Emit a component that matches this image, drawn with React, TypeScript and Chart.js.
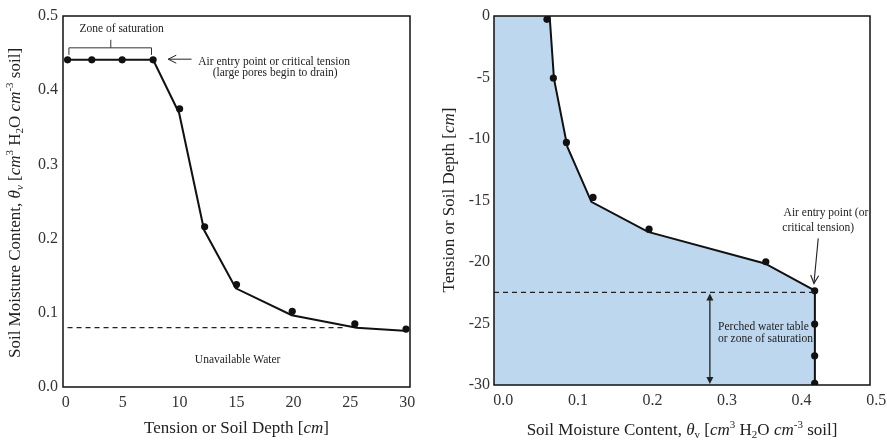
import React, { useEffect, useRef } from "react";
import { Chart, registerables } from "chart.js";
Chart.register(...registerables);

const FONT = '"Liberation Serif", "Times New Roman", serif';

// ---------- Left panel: moisture content vs tension ----------
const leftTension = [0.15, 2.28, 4.95, 7.67, 10.0, 12.2, 15.0, 19.9, 25.4, 29.9];
const leftMoisture = [0.441, 0.441, 0.441, 0.441, 0.375, 0.216, 0.138, 0.102, 0.085, 0.078];
const leftCurveTension = [0.15, 7.67, 9.96, 12.15, 14.94, 19.86, 25.55, 30.08];
const leftCurveMoisture = [0.441, 0.441, 0.369, 0.2115, 0.133, 0.0968, 0.08, 0.0756];
const leftXTicks = [0, 5, 10, 15, 20, 25, 30];
const leftYTicks = [0, 0.1, 0.2, 0.3, 0.4, 0.5];
const unavailableLevel = 0.08;
const unavailableEnd = 24.5;

// ---------- Right panel: depth vs moisture content ----------
const rightMoisture = [0.0585, 0.0671, 0.0846, 0.1203, 0.1954, 0.352, 0.4175, 0.4175, 0.4175, 0.4175];
const rightDepth = [-0.27, -5.04, -10.28, -14.75, -17.33, -19.98, -22.34, -25.04, -27.62, -29.86];
const rightCurveMoisture = [0.0621, 0.0679, 0.0859, 0.1181, 0.1941, 0.3507, 0.4178, 0.4178];
const rightCurveDepth = [0, -5.09, -10.64, -15.11, -17.55, -20.12, -22.33, -30];
const rightXTicks = [0, 0.1, 0.2, 0.3, 0.4, 0.5];
const rightYTicks = [0, -5, -10, -15, -20, -25, -30];
const rightXMin = -0.0125;
const rightXMax = 0.4917;
const waterTableDepth = -22.47;
const waterTableMoisture = 0.4178;
const perchedArrowX = 0.277;

const NOTE = 11.5;

type Seg = { t: string; it?: boolean; sub?: boolean; sup?: boolean };

const moistureTitle = (vItalic: boolean): Seg[] => [
  { t: "Soil Moisture Content, " },
  { t: "θ", it: true },
  { t: "v", sub: true, it: vItalic },
  { t: " [" },
  { t: "cm", it: true },
  { t: "3", sup: true },
  { t: " H" },
  { t: "2", sub: true },
  { t: "O " },
  { t: "cm", it: true },
  { t: "-3", sup: true },
  { t: " soil]" },
];
const tensionTitle: Seg[] = [{ t: "Tension or Soil Depth [" }, { t: "cm", it: true }, { t: "]" }];

function drawRich(ctx: CanvasRenderingContext2D, segs: Seg[], cx: number, cy: number, size: number, rotate: boolean) {
  ctx.save();
  ctx.translate(cx, cy);
  if (rotate) ctx.rotate(-Math.PI / 2);
  const fontFor = (s: Seg) => `${s.it ? "italic " : ""}${s.sub || s.sup ? Math.round(size * 0.65) : size}px ${FONT}`;
  let total = 0;
  for (const s of segs) {
    ctx.font = fontFor(s);
    total += ctx.measureText(s.t).width;
  }
  let x = -total / 2;
  ctx.textAlign = "left";
  ctx.textBaseline = "alphabetic";
  ctx.fillStyle = "#222";
  for (const s of segs) {
    ctx.font = fontFor(s);
    const dy = s.sup ? -size * 0.38 : s.sub ? size * 0.22 : 0;
    ctx.fillText(s.t, x, size * 0.33 + dy);
    x += ctx.measureText(s.t).width;
  }
  ctx.restore();
}

function arrowHead(ctx: CanvasRenderingContext2D, x: number, y: number, angle: number, size: number, filled: boolean) {
  ctx.save();
  ctx.translate(x, y);
  ctx.rotate(angle);
  ctx.beginPath();
  ctx.moveTo(-size, -size * 0.5);
  ctx.lineTo(0, 0);
  ctx.lineTo(-size, size * 0.5);
  if (filled) {
    ctx.closePath();
    ctx.fill();
  } else ctx.stroke();
  ctx.restore();
}

function text(ctx: CanvasRenderingContext2D, s: string, x: number, y: number, size: number, align: CanvasTextAlign) {
  ctx.font = `${size}px ${FONT}`;
  ctx.textAlign = align;
  ctx.textBaseline = "middle";
  ctx.fillStyle = "#222";
  ctx.fillText(s, x, y);
}

const fixedTicks = (values: number[]) => (scale: any) => {
  scale.ticks = values.map((v) => ({ value: v }));
};

const tickFont = { family: FONT, size: 16 };

function frame(ctx: CanvasRenderingContext2D, a: any) {
  ctx.save();
  ctx.strokeStyle = "#111";
  ctx.lineWidth = 1.5;
  ctx.strokeRect(a.left, a.top, a.right - a.left, a.bottom - a.top);
  ctx.restore();
}

const leftPlugin = {
  id: "leftAnnot",
  afterDatasetsDraw(chart: any) {
    const { ctx, scales } = chart;
    const X = (v: number) => scales.x.getPixelForValue(v);
    const Y = (v: number) => scales.y.getPixelForValue(v);
    ctx.save();
    ctx.strokeStyle = "#222";
    ctx.lineWidth = 1.2;
    ctx.setLineDash([5, 4]);
    ctx.beginPath();
    ctx.moveTo(X(0.15), Y(unavailableLevel));
    ctx.lineTo(X(unavailableEnd), Y(unavailableLevel));
    ctx.stroke();
    ctx.setLineDash([]);
    ctx.restore();
  },
  afterDraw(chart: any) {
    const { ctx, chartArea: a, scales } = chart;
    const X = (v: number) => scales.x.getPixelForValue(v);
    const Y = (v: number) => scales.y.getPixelForValue(v);
    frame(ctx, a);
    ctx.save();
    ctx.strokeStyle = "#333";
    ctx.lineWidth = 1;
    ctx.beginPath();
    ctx.moveTo(X(0.27), Y(0.4476));
    ctx.lineTo(X(0.27), Y(0.4571));
    ctx.lineTo(X(7.53), Y(0.4571));
    ctx.lineTo(X(7.53), Y(0.4476));
    ctx.moveTo(X(3.95), Y(0.4571));
    ctx.lineTo(X(3.95), Y(0.4679));
    ctx.stroke();
    text(ctx, "Zone of saturation", X(4.9), Y(0.4823), NOTE, "center");
    ctx.strokeStyle = "#222";
    ctx.fillStyle = "#222";
    ctx.beginPath();
    ctx.moveTo(X(11.05), Y(0.4418));
    ctx.lineTo(X(9.0), Y(0.4418));
    ctx.stroke();
    arrowHead(ctx, X(9.0), Y(0.4418), Math.PI, 8, false);
    text(ctx, "Air entry point or critical tension", X(18.3), Y(0.438), NOTE, "center");
    text(ctx, "(large pores begin to drain)", X(18.4), Y(0.4237), NOTE, "center");
    text(ctx, "Unavailable Water", X(15.1), Y(0.037), NOTE, "center");
    ctx.restore();
    drawRich(ctx, tensionTitle, (a.left + a.right) / 2, 427, 17, false);
    drawRich(ctx, moistureTitle(true), 14, 203, 17, true);
  },
};

const rightPlugin = {
  id: "rightAnnot",
  afterDatasetsDraw(chart: any) {
    const { ctx, chartArea: a, scales } = chart;
    const X = (v: number) => scales.x.getPixelForValue(v);
    const Y = (v: number) => scales.y.getPixelForValue(v);
    ctx.save();
    ctx.strokeStyle = "#222";
    ctx.fillStyle = "#222";
    ctx.lineWidth = 1.2;
    ctx.setLineDash([5, 4]);
    ctx.beginPath();
    ctx.moveTo(a.left, Y(waterTableDepth));
    ctx.lineTo(X(waterTableMoisture), Y(waterTableDepth));
    ctx.stroke();
    ctx.setLineDash([]);
    const ax = X(perchedArrowX);
    const y1 = Y(waterTableDepth) + 1;
    const y2 = Y(-30) - 1;
    ctx.lineWidth = 1.3;
    ctx.beginPath();
    ctx.moveTo(ax, y1 + 4);
    ctx.lineTo(ax, y2 - 4);
    ctx.stroke();
    arrowHead(ctx, ax, y1, -Math.PI / 2, 7, true);
    arrowHead(ctx, ax, y2, Math.PI / 2, 7, true);
    text(ctx, "Perched water table", X(0.288), Y(-25.27), NOTE, "left");
    text(ctx, "or zone of saturation", X(0.288), Y(-26.26), NOTE, "left");
    ctx.lineWidth = 1.1;
    const sx = X(0.4223), sy = Y(-18.08), ex = X(0.4165), ey = Y(-21.74);
    ctx.beginPath();
    ctx.moveTo(sx, sy);
    ctx.lineTo(ex, ey);
    ctx.stroke();
    arrowHead(ctx, ex, ey, Math.atan2(ey - sy, ex - sx), 8, false);
    text(ctx, "Air entry point (or", X(0.4326), Y(-16.05), NOTE, "center");
    text(ctx, "critical tension)", X(0.4223), Y(-17.27), NOTE, "center");
    ctx.restore();
  },
  afterDraw(chart: any) {
    const { ctx, chartArea: a } = chart;
    frame(ctx, a);
    drawRich(ctx, moistureTitle(false), (a.left + a.right) / 2, 429, 17, false);
    drawRich(ctx, tensionTitle, 8, 200, 17, true);
  },
};

function LeftChart() {
  const ref = useRef<HTMLCanvasElement>(null);
  useEffect(() => {
    const chart = new Chart(ref.current as HTMLCanvasElement, {
      type: "line",
      data: {
        datasets: [
          {
            data: leftTension.map((x, i) => ({ x, y: leftMoisture[i] })),
            showLine: false,
            pointRadius: 3.6,
            pointBackgroundColor: "#111",
            pointBorderColor: "#111",
            pointBorderWidth: 0,
          },
          {
            data: leftCurveTension.map((x, i) => ({ x, y: leftCurveMoisture[i] })),
            borderColor: "#111",
            borderWidth: 2,
            pointRadius: 0,
            fill: false,
            tension: 0,
          },
        ],
      } as any,
      options: {
        responsive: false,
        animation: false,
        events: [],
        layout: { padding: { top: 16, right: 30, left: 0, bottom: 0 } },
        plugins: { legend: { display: false }, tooltip: { enabled: false } },
        scales: {
          x: {
            type: "linear",
            min: -0.25,
            max: 30.25,
            afterBuildTicks: fixedTicks(leftXTicks),
            afterFit: (s: any) => {
              s.height = 53;
              s.paddingLeft = 0;
              s.paddingRight = 0;
            },
            grid: { display: false, drawTicks: false },
            border: { display: false },
            ticks: { font: tickFont, color: "#333", padding: 6, autoSkip: false, maxRotation: 0, callback: (v: any) => String(v) },
          },
          y: {
            type: "linear",
            min: 0,
            max: 0.5,
            afterBuildTicks: fixedTicks(leftYTicks),
            afterFit: (s: any) => {
              s.width = 63;
              s.paddingTop = 0;
              s.paddingBottom = 0;
            },
            grid: { display: false, drawTicks: false },
            border: { display: false },
            ticks: { font: tickFont, color: "#333", padding: 5, autoSkip: false, callback: (v: any) => Number(v).toFixed(1) },
          },
        },
      } as any,
      plugins: [leftPlugin],
    });
    return () => chart.destroy();
  }, []);
  return <canvas ref={ref} width={440} height={440} style={{ position: "absolute", left: 0, top: 0 }} />;
}

function RightChart() {
  const ref = useRef<HTMLCanvasElement>(null);
  useEffect(() => {
    const chart = new Chart(ref.current as HTMLCanvasElement, {
      type: "line",
      data: {
        datasets: [
          {
            data: rightMoisture.map((x, i) => ({ x, y: rightDepth[i] })),
            showLine: false,
            pointRadius: 3.6,
            pointBackgroundColor: "#111",
            pointBorderColor: "#111",
            pointBorderWidth: 0,
          },
          {
            data: rightCurveMoisture.map((x, i) => ({ x, y: rightCurveDepth[i] })),
            borderColor: "#111",
            borderWidth: 2,
            pointRadius: 0,
            fill: { value: rightXMin },
            backgroundColor: "#bdd7ee",
            tension: 0,
          },
        ],
      } as any,
      options: {
        responsive: false,
        animation: false,
        events: [],
        indexAxis: "y",
        layout: { padding: { top: 16, right: 17, left: 0, bottom: 0 } },
        plugins: { legend: { display: false }, tooltip: { enabled: false } },
        scales: {
          x: {
            type: "linear",
            min: rightXMin,
            max: rightXMax,
            afterBuildTicks: fixedTicks(rightXTicks),
            afterFit: (s: any) => {
              s.height = 55;
              s.paddingLeft = 0;
              s.paddingRight = 0;
            },
            grid: { display: false, drawTicks: false },
            border: { display: false },
            ticks: { font: tickFont, color: "#333", padding: 6, autoSkip: false, maxRotation: 0, callback: (v: any) => Number(v).toFixed(1) },
          },
          y: {
            type: "linear",
            min: -30,
            max: 0,
            afterBuildTicks: fixedTicks(rightYTicks),
            afterFit: (s: any) => {
              s.width = 54;
              s.paddingTop = 0;
              s.paddingBottom = 0;
            },
            grid: { display: false, drawTicks: false },
            border: { display: false },
            ticks: { font: tickFont, color: "#333", padding: 4, autoSkip: false, callback: (v: any) => String(v) },
          },
        },
      } as any,
      plugins: [rightPlugin],
    });
    return () => chart.destroy();
  }, []);
  return <canvas ref={ref} width={447} height={440} style={{ position: "absolute", left: 440, top: 0 }} />;
}

export default function App() {
  return (
    <div style={{ position: "fixed", left: 0, top: 0, width: 887, height: 440, background: "#fff" }}>
      <LeftChart />
      <RightChart />
    </div>
  );
}
